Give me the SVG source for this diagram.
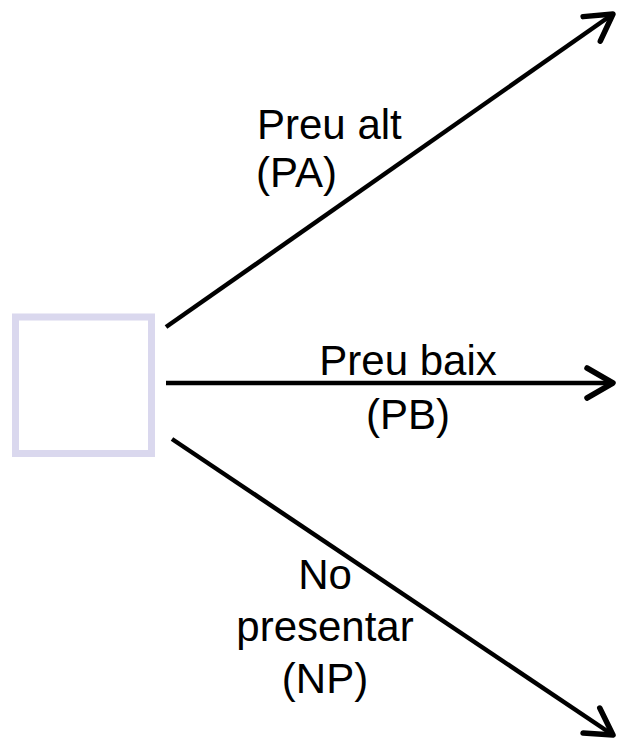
<svg xmlns="http://www.w3.org/2000/svg" width="617" height="741" viewBox="0 0 617 741">
<style>
.lbl{font-family:"Liberation Sans",Arial,sans-serif;font-size:42px;fill:#000}
.mid{text-anchor:middle}
.edge{stroke:#000;stroke-width:4.5;fill:none}
.box{fill:#fff;stroke:#DAD8EE;stroke-width:7}
</style>
<defs>
<marker id="arr" markerUnits="userSpaceOnUse" markerWidth="40" markerHeight="40" viewBox="-30 -20 40 40" refX="0" refY="0" orient="auto" overflow="visible">
<path d="M-26,-15 L0,0 L-26,15" fill="none" stroke="#000" stroke-width="5.5" stroke-linecap="round" stroke-linejoin="round"/>
</marker>
</defs>
<rect width="617" height="741" fill="#fff"/>
<g id="node-box">
<rect class="box" x="15.5" y="317" width="136" height="136.5"/>
</g>
<g id="connectors">
<line class="edge" x1="166" y1="327" x2="613" y2="14" marker-end="url(#arr)"/>
<line class="edge" x1="166" y1="383" x2="613" y2="383" marker-end="url(#arr)"/>
<line class="edge" x1="172" y1="439" x2="613" y2="735" marker-end="url(#arr)"/>
</g>
<g id="label-pa">
<text class="lbl" x="257" y="139">Preu alt</text>
<text class="lbl" x="256" y="187">(PA)</text>
</g>
<g id="label-pb">
<text class="lbl mid" x="408" y="375">Preu baix</text>
<text class="lbl mid" x="408" y="429">(PB)</text>
</g>
<g id="label-np">
<text class="lbl mid" x="325" y="589">No</text>
<text class="lbl mid" x="325" y="641">presentar</text>
<text class="lbl mid" x="325" y="693">(NP)</text>
</g>
</svg>
